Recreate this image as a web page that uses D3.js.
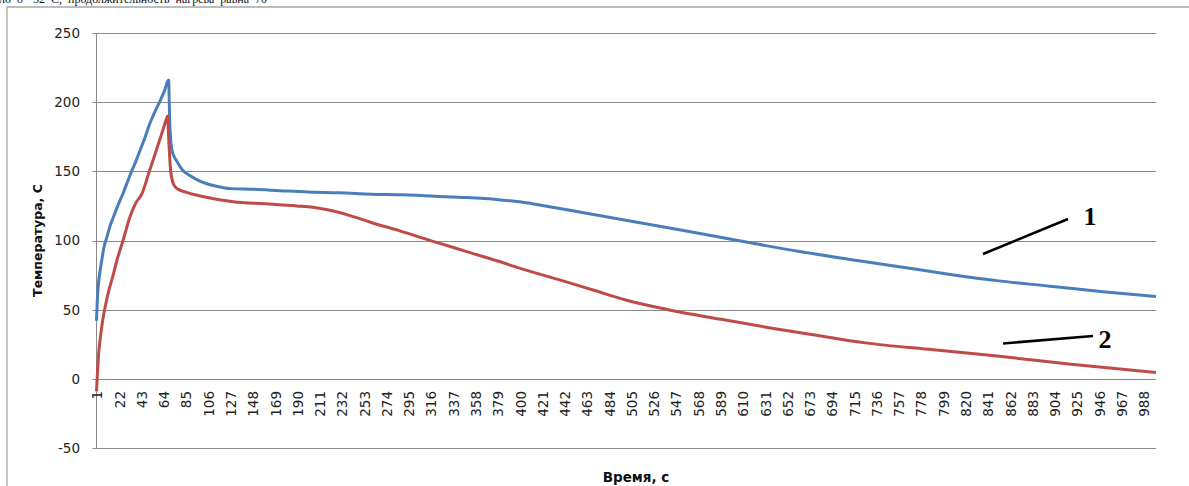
<!DOCTYPE html>
<html>
<head>
<meta charset="utf-8">
<script src="https://cdn.jsdelivr.net/npm/d3@7"></script>
<style>
  html, body { margin: 0; padding: 0; background: #fff; }
  svg { display: block; }
</style>
</head>
<body>
<svg id="chart" width="1189" height="486"></svg>
<script>
// Curve 1 (blue): time, s and temperature
const curve1Time = [1, 2, 3, 4, 6, 8, 11, 14, 17, 21, 26, 30, 33, 38, 42, 47, 51, 56, 61, 65, 69, 70, 71, 72, 74, 77, 82, 89, 97, 105, 115, 127, 150, 174, 200, 230, 260, 290, 320, 350, 380, 400, 420, 450, 475, 520, 570, 620, 664, 710, 758, 806, 850, 900, 950, 1000];
const curve1Temp = [42, 60, 70, 76, 86, 95, 103, 111, 117, 125, 134, 142, 148, 157, 165, 175, 184, 193, 201, 208, 216, 186, 172, 166, 161, 157, 151, 147, 143.5, 141, 139, 137.5, 137, 136, 135, 134.5, 133.5, 133, 132, 131, 129.5, 128, 125.5, 121.5, 118, 112, 105, 98, 92, 86.5, 81, 75.5, 71, 67, 63, 59.5];

// Curve 2 (red): time, s and temperature
const curve2Time = [1, 3, 5, 7, 10, 13, 16, 20, 26, 33, 38, 44, 50, 56, 62, 67, 68, 69, 70, 71, 72, 74, 78, 85, 100, 130, 160, 190, 205, 220, 240, 260, 287, 320, 350, 380, 400, 440, 470, 500, 540, 590, 635, 680, 726, 790, 850, 920, 1000];
const curve2Temp = [-9, 18, 32, 43, 55, 65, 73, 85, 100, 118, 127, 134, 148, 162, 176, 188, 190, 175, 160, 150, 145, 140, 137, 135, 132, 128, 126.5, 125, 124, 122, 118, 113, 107, 99, 92, 85, 80, 71, 64, 57, 50, 43, 37, 31.5, 26, 21, 16.5, 10.5, 4.5];

// Axis ticks
const yTicks = [-50, 0, 50, 100, 150, 200, 250];
const xTicks = d3.range(1, 1001, 21);   // 1, 22, 43, ... 988

// Line of page text running above the chart (only its lower part is on the page)
const captionText = "ло о -32 С, продолжительность нагрева равна 70";

const svg = d3.select("#chart");
const plot = { left: 96.5, right: 1156, top: 33, bottom: 448 };

const x = d3.scaleLinear().domain([1, 1000]).range([plot.left, plot.right]);
const y = d3.scaleLinear().domain([-50, 250]).range([plot.bottom, plot.top]);

svg.append("text")
  .attr("x", -1)
  .attr("y", 2.5)
  .attr("font-family", "Liberation Serif, Times New Roman, serif")
  .attr("font-size", 12)
  .attr("word-spacing", 3)
  .attr("fill", "#111")
  .text(captionText);

// Chart area frame
svg.append("path")
  .attr("d", "M7,490 L7,7 L1195,7")
  .attr("fill", "none")
  .attr("stroke", "#a8a8a8")
  .attr("stroke-width", 1.3);

// Horizontal gridlines
svg.append("g")
  .selectAll("line")
  .data(yTicks)
  .join("line")
  .attr("x1", plot.left - 4)
  .attr("x2", plot.right)
  .attr("y1", d => Math.round(y(d)) + 0.5)
  .attr("y2", d => Math.round(y(d)) + 0.5)
  .attr("stroke", "#8a8a8a")
  .attr("stroke-width", 1);

// Vertical axis line
svg.append("line")
  .attr("x1", plot.left).attr("x2", plot.left)
  .attr("y1", plot.top).attr("y2", plot.bottom + 0.5)
  .attr("stroke", "#8a8a8a")
  .attr("stroke-width", 1);

// Y tick labels
svg.append("g")
  .selectAll("text")
  .data(yTicks)
  .join("text")
  .attr("x", 80)
  .attr("y", d => y(d))
  .attr("dy", "0.36em")
  .attr("text-anchor", "end")
  .attr("font-family", "DejaVu Sans, Verdana, sans-serif")
  .attr("font-size", 13.5)
  .attr("fill", "#222")
  .text(d => d);

// X tick labels, rotated
svg.append("g")
  .selectAll("text")
  .data(xTicks)
  .join("text")
  .attr("transform", d => `translate(${x(d) + 1},391) rotate(-90)`)
  .attr("dy", "0.36em")
  .attr("text-anchor", "end")
  .attr("font-family", "DejaVu Sans, Verdana, sans-serif")
  .attr("font-size", 13.5)
  .attr("fill", "#222")
  .text(d => d);

// Axis titles
svg.append("text")
  .attr("transform", `translate(37,${(plot.top + plot.bottom) / 2}) rotate(-90)`)
  .attr("dy", "0.36em")
  .attr("text-anchor", "middle")
  .attr("font-family", "DejaVu Sans, Verdana, sans-serif")
  .attr("font-weight", "bold")
  .attr("font-size", 12.5)
  .attr("fill", "#111")
  .text("Температура, С");

svg.append("text")
  .attr("x", 636)
  .attr("y", 477)
  .attr("dy", "0.36em")
  .attr("text-anchor", "middle")
  .attr("font-family", "DejaVu Sans, Verdana, sans-serif")
  .attr("font-weight", "bold")
  .attr("font-size", 13.5)
  .attr("fill", "#111")
  .text("Время, с");

// Temperature curves
const line = d3.line()
  .x(d => x(d[0]))
  .y(d => y(d[1]))
  .curve(d3.curveMonotoneX);

const curve1 = curve1Time.map((t, i) => [t, curve1Temp[i]]);
const curve2 = curve2Time.map((t, i) => [t, curve2Temp[i]]);

svg.append("path")
  .datum(curve1)
  .attr("d", line)
  .attr("fill", "none")
  .attr("stroke", "#4a7ebb")
  .attr("stroke-width", 3)
  .attr("stroke-linejoin", "round");

svg.append("path")
  .datum(curve2)
  .attr("d", line)
  .attr("fill", "none")
  .attr("stroke", "#be4b48")
  .attr("stroke-width", 3)
  .attr("stroke-linejoin", "round");

// Curve labels with leader lines
const leaders = [
  { x1: 983, y1: 254, x2: 1068, y2: 219, label: "1", lx: 1090, ly: 225 },
  { x1: 1003, y1: 343.5, x2: 1093, y2: 336, label: "2", lx: 1105, ly: 348 }
];

svg.append("g")
  .selectAll("line")
  .data(leaders)
  .join("line")
  .attr("x1", d => d.x1).attr("y1", d => d.y1)
  .attr("x2", d => d.x2).attr("y2", d => d.y2)
  .attr("stroke", "#000")
  .attr("stroke-width", 2.6);

svg.append("g")
  .selectAll("text")
  .data(leaders)
  .join("text")
  .attr("x", d => d.lx)
  .attr("y", d => d.ly)
  .attr("text-anchor", "middle")
  .attr("font-family", "Liberation Serif, Times New Roman, serif")
  .attr("font-weight", "bold")
  .attr("font-size", 26)
  .attr("fill", "#000")
  .text(d => d.label);
</script>
</body>
</html>
